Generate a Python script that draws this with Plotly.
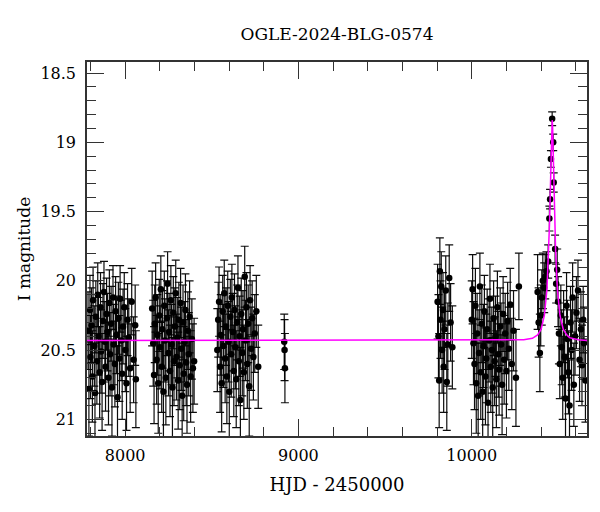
import plotly.graph_objects as go

# ---- data ----
t_s1 = [7786, 7791, 7797, 7800, 7806, 7811, 7815, 7822, 7826, 7831,
        7837, 7842, 7846, 7853, 7858, 7861, 7867, 7872, 7878, 7883,
        7887, 7893, 7898, 7904, 7909, 7913, 7919, 7924, 7930, 7934,
        7941, 7945, 7950, 7956, 7961, 7967, 7971, 7977, 7983, 7988,
        7995, 8001, 8008, 8014, 8021, 8029, 8038, 8049, 8058, 8062]
m_s1 = [20.36, 20.78, 20.21, 20.55, 20.32, 20.69, 20.14, 20.47, 20.81, 20.26,
        20.58, 20.10, 20.40, 20.66, 20.19, 20.51, 20.73, 20.29, 20.08, 20.44,
        20.62, 20.24, 20.37, 20.70, 20.16, 20.53, 20.31, 20.77, 20.12, 20.46,
        20.60, 20.22, 20.39, 20.84, 20.27, 20.56, 20.13, 20.43, 20.67, 20.33,
        20.19, 20.50, 20.74, 20.28, 20.41, 20.63, 20.15, 20.57, 20.32, 20.71]
e_s1 = [0.28, 0.34, 0.25, 0.30, 0.27, 0.33, 0.24, 0.29, 0.36, 0.26,
        0.31, 0.23, 0.28, 0.33, 0.25, 0.30, 0.35, 0.27, 0.22, 0.29,
        0.32, 0.26, 0.28, 0.34, 0.24, 0.30, 0.27, 0.35, 0.23, 0.29,
        0.31, 0.25, 0.28, 0.37, 0.26, 0.31, 0.24, 0.29, 0.33, 0.27,
        0.25, 0.30, 0.34, 0.26, 0.28, 0.32, 0.24, 0.31, 0.29, 0.35]

t_s2 = [8156, 8162, 8167, 8171, 8176, 8182, 8186, 8191, 8197, 8201,
        8206, 8211, 8215, 8221, 8226, 8230, 8235, 8241, 8245, 8250,
        8254, 8259, 8264, 8268, 8273, 8278, 8282, 8287, 8292, 8296,
        8301, 8306, 8310, 8315, 8320, 8324, 8329, 8334, 8338, 8343,
        8348, 8352, 8357, 8362, 8367, 8372, 8378, 8385, 8391, 8398]
m_s2 = [20.20, 20.45, 20.68, 20.31, 20.12, 20.57, 20.39, 20.74, 20.25, 20.48,
        20.06, 20.62, 20.35, 20.80, 20.18, 20.43, 20.70, 20.27, 20.02, 20.52,
        20.37, 20.65, 20.14, 20.46, 20.77, 20.23, 20.58, 20.33, 20.09, 20.55,
        20.41, 20.72, 20.28, 20.61, 20.16, 20.49, 20.83, 20.30, 20.67, 20.44,
        20.21, 20.59, 20.75, 20.36, 20.53, 20.26, 20.69, 20.42, 20.63, 20.58]
e_s2 = [0.27, 0.31, 0.35, 0.28, 0.25, 0.32, 0.29, 0.36, 0.26, 0.30,
        0.24, 0.33, 0.28, 0.37, 0.25, 0.30, 0.34, 0.27, 0.23, 0.31,
        0.28, 0.33, 0.25, 0.29, 0.36, 0.26, 0.32, 0.28, 0.24, 0.31,
        0.29, 0.35, 0.27, 0.32, 0.25, 0.30, 0.38, 0.27, 0.34, 0.29,
        0.26, 0.31, 0.35, 0.28, 0.30, 0.26, 0.33, 0.29, 0.32, 0.31]

t_s3 = [8532, 8537, 8542, 8548, 8552, 8557, 8563, 8567, 8572, 8577,
        8582, 8587, 8592, 8597, 8601, 8607, 8612, 8616, 8621, 8627,
        8631, 8636, 8641, 8646, 8651, 8656, 8661, 8665, 8670, 8676,
        8680, 8685, 8690, 8695, 8700, 8705, 8710, 8716, 8721, 8727,
        8733, 8740, 8748, 8757, 8768]
m_s3 = [20.50, 20.28, 20.15, 20.62, 20.39, 20.74, 20.22, 20.47, 20.09, 20.56,
        20.33, 20.69, 20.18, 20.44, 20.80, 20.26, 20.53, 20.12, 20.37, 20.65,
        20.21, 20.48, 20.71, 20.30, 20.05, 20.58, 20.40, 20.86, 20.24, 20.52,
        20.35, 20.66, 19.97, 20.43, 20.19, 20.60, 20.31, 20.76, 20.14, 20.49,
        20.27, 20.55, 20.38, 20.22, 20.62]
e_s3 = [0.30, 0.27, 0.25, 0.33, 0.29, 0.35, 0.26, 0.30, 0.24, 0.32,
        0.28, 0.34, 0.25, 0.29, 0.37, 0.27, 0.31, 0.24, 0.28, 0.33,
        0.26, 0.30, 0.35, 0.27, 0.23, 0.32, 0.29, 0.38, 0.26, 0.31,
        0.28, 0.34, 0.22, 0.29, 0.25, 0.32, 0.28, 0.36, 0.25, 0.30,
        0.27, 0.31, 0.28, 0.26, 0.30]

t_s4 = [8918, 8920, 8922]
m_s4 = [20.44, 20.50, 20.63]
e_s4 = [0.20, 0.22, 0.25]

t_s5 = [9803, 9808, 9812, 9816, 9820, 9824, 9829, 9834, 9838, 9843,
        9850, 9856, 9862, 9870, 9878, 9888]
m_s5 = [20.15, 20.40, 20.72, 19.93, 20.28, 20.04, 20.50, 20.21, 20.62, 20.35,
        20.07, 20.73, 20.46, 19.98, 20.30, 20.48]
e_s5 = [0.27, 0.30, 0.34, 0.24, 0.28, 0.25, 0.31, 0.27, 0.33, 0.29,
        0.25, 0.35, 0.30, 0.24, 0.28, 0.30]

t_s6 = [10000, 10005, 10010, 10016, 10021, 10026, 10031, 10037, 10042, 10047,
        10052, 10058, 10063, 10068, 10073, 10079, 10084, 10089, 10094, 10100,
        10105, 10110, 10116, 10121, 10126, 10132, 10137, 10142, 10148, 10153,
        10158, 10164, 10169, 10175, 10181, 10187, 10193, 10200, 10207, 10214,
        10222, 10231, 10241, 10255, 10272]
m_s6 = [20.28, 20.06, 20.45, 20.60, 20.18, 20.74, 20.38, 20.83, 20.52, 20.04,
        20.66, 20.31, 20.80, 20.47, 20.22, 20.69, 20.56, 20.35, 20.88, 20.43,
        20.13, 20.62, 20.50, 20.77, 20.27, 20.58, 20.40, 20.71, 20.19, 20.53,
        20.64, 20.33, 20.46, 20.75, 20.24, 20.57, 20.38, 20.65, 20.29, 20.49,
        20.17, 20.60, 20.36, 20.70, 20.04]
e_s6 = [0.28, 0.25, 0.30, 0.33, 0.27, 0.36, 0.29, 0.38, 0.31, 0.24,
        0.34, 0.28, 0.37, 0.30, 0.26, 0.35, 0.32, 0.29, 0.39, 0.30,
        0.25, 0.33, 0.31, 0.36, 0.27, 0.32, 0.29, 0.35, 0.26, 0.31,
        0.33, 0.28, 0.30, 0.36, 0.27, 0.32, 0.29, 0.34, 0.28, 0.30,
        0.26, 0.33, 0.29, 0.35, 0.24]

t_s7 = [10380, 10386, 10393, 10398, 10404, 10410, 10418, 10424, 10431, 10441,
        10448, 10452, 10457, 10464, 10470, 10473, 10481, 10487, 10493, 10498,
        10503, 10508, 10514, 10519, 10525, 10530, 10536, 10541, 10547, 10552,
        10558, 10564, 10570, 10576, 10582, 10589, 10596, 10604, 10613, 10622,
        10630, 10636, 10643, 10648, 10656]
m_s7 = [20.08, 20.30, 20.52, 20.25, 20.12, 20.00, 20.05, 19.97, 19.93, 19.86,
        19.55, 19.41, 19.12, 18.83, 19.00, 19.29, 19.77, 20.02, 19.92, 20.15,
        20.38, 20.60, 20.25, 20.48, 20.70, 20.33, 20.55, 20.85, 20.18, 20.42,
        20.66, 20.90, 20.30, 20.50, 20.12, 20.75, 20.40, 20.23, 20.07, 20.57,
        20.35, 20.61, 20.28, 20.45, 20.72]
e_s7 = [0.27, 0.25, 0.28, 0.22, 0.20, 0.20, 0.18, 0.16, 0.14, 0.12,
        0.09, 0.07, 0.06, 0.05, 0.06, 0.07, 0.10, 0.14, 0.15, 0.18,
        0.22, 0.25, 0.22, 0.27, 0.30, 0.26, 0.29, 0.32, 0.24, 0.28,
        0.30, 0.33, 0.26, 0.29, 0.25, 0.30, 0.28, 0.26, 0.22, 0.30,
        0.27, 0.29, 0.24, 0.26, 0.30]

# model light curve
t_model = [7780, 10200, 10300, 10350, 10380, 10400, 10419, 10434, 10444, 10449,
           10454, 10458, 10461, 10462.5, 10464, 10465.5, 10467, 10470, 10474, 10479,
           10484, 10494, 10509, 10528, 10548, 10564, 10614, 10665]
m_model = [20.43, 20.43, 20.425, 20.415, 20.39, 20.35, 20.25, 20.06, 19.79, 19.58,
           19.32, 19.07, 18.91, 18.86, 18.84, 18.86, 18.91, 19.07, 19.32, 19.58,
           19.79, 20.06, 20.25, 20.35, 20.39, 20.41, 20.425, 20.43]

title_text = "OGLE-2024-BLG-0574"
x_label = "HJD - 2450000"
y_label = "I magnitude"
x_ticks = [8000, 9000, 10000]
y_ticks = [18.5, 19, 19.5, 20, 20.5, 21]
y_ticktext = ["18.5", "19", "19.5", "20", "20.5", "21"]

t_all = t_s1 + t_s2 + t_s3 + t_s4 + t_s5 + t_s6 + t_s7
m_all = m_s1 + m_s2 + m_s3 + m_s4 + m_s5 + m_s6 + m_s7
e_all = e_s1 + e_s2 + e_s3 + e_s4 + e_s5 + e_s6 + e_s7

FONT = "DejaVu Serif"
AX = "#333333"

fig = go.Figure()
fig.add_trace(go.Scatter(
    x=t_all, y=m_all, mode="markers",
    marker=dict(color="black", size=6.5),
    error_y=dict(type="data", array=e_all, color="rgba(0,0,0,0.95)",
                 thickness=1.2, width=4),
    showlegend=False))
fig.add_trace(go.Scatter(
    x=t_model, y=m_model, mode="lines",
    line=dict(color="#ff00ff", width=1.5), showlegend=False))

axis_common = dict(showgrid=False, zeroline=False, showline=True, linecolor=AX,
                   linewidth=1.5, mirror="ticks", ticks="inside", tickcolor=AX,
                   tickwidth=1, ticklen=17,
                   tickfont=dict(family=FONT, size=16, color="black"))

fig.update_xaxes(range=[7780, 10665], tickvals=x_ticks,
                 ticktext=[str(v) for v in x_ticks], ticklabelstandoff=4,
                 minor=dict(dtick=200, tick0=0, ticks="inside", ticklen=9,
                            tickcolor=AX, tickwidth=1),
                 title=dict(text=x_label, font=dict(family=FONT, size=18, color="black"),
                            standoff=14),
                 **axis_common)
fig.update_yaxes(range=[21.12, 18.42], tickvals=y_ticks, ticktext=y_ticktext,
                 ticklabelstandoff=6,
                 minor=dict(dtick=0.1, tick0=0, ticks="inside", ticklen=9,
                            tickcolor=AX, tickwidth=1),
                 title=dict(text=y_label, font=dict(family=FONT, size=17, color="black"),
                            standoff=5),
                 **axis_common)

fig.update_layout(
    width=600, height=512,
    margin=dict(l=87, r=13, t=62, b=76),
    paper_bgcolor="white", plot_bgcolor="white",
    title=dict(text=title_text, font=dict(family=FONT, size=17, color="black"),
               x=0.5617, xanchor="center", xref="container",
               y=1 - 34 / 512, yanchor="middle", yref="container"),
)

fig.write_html("out.html")
